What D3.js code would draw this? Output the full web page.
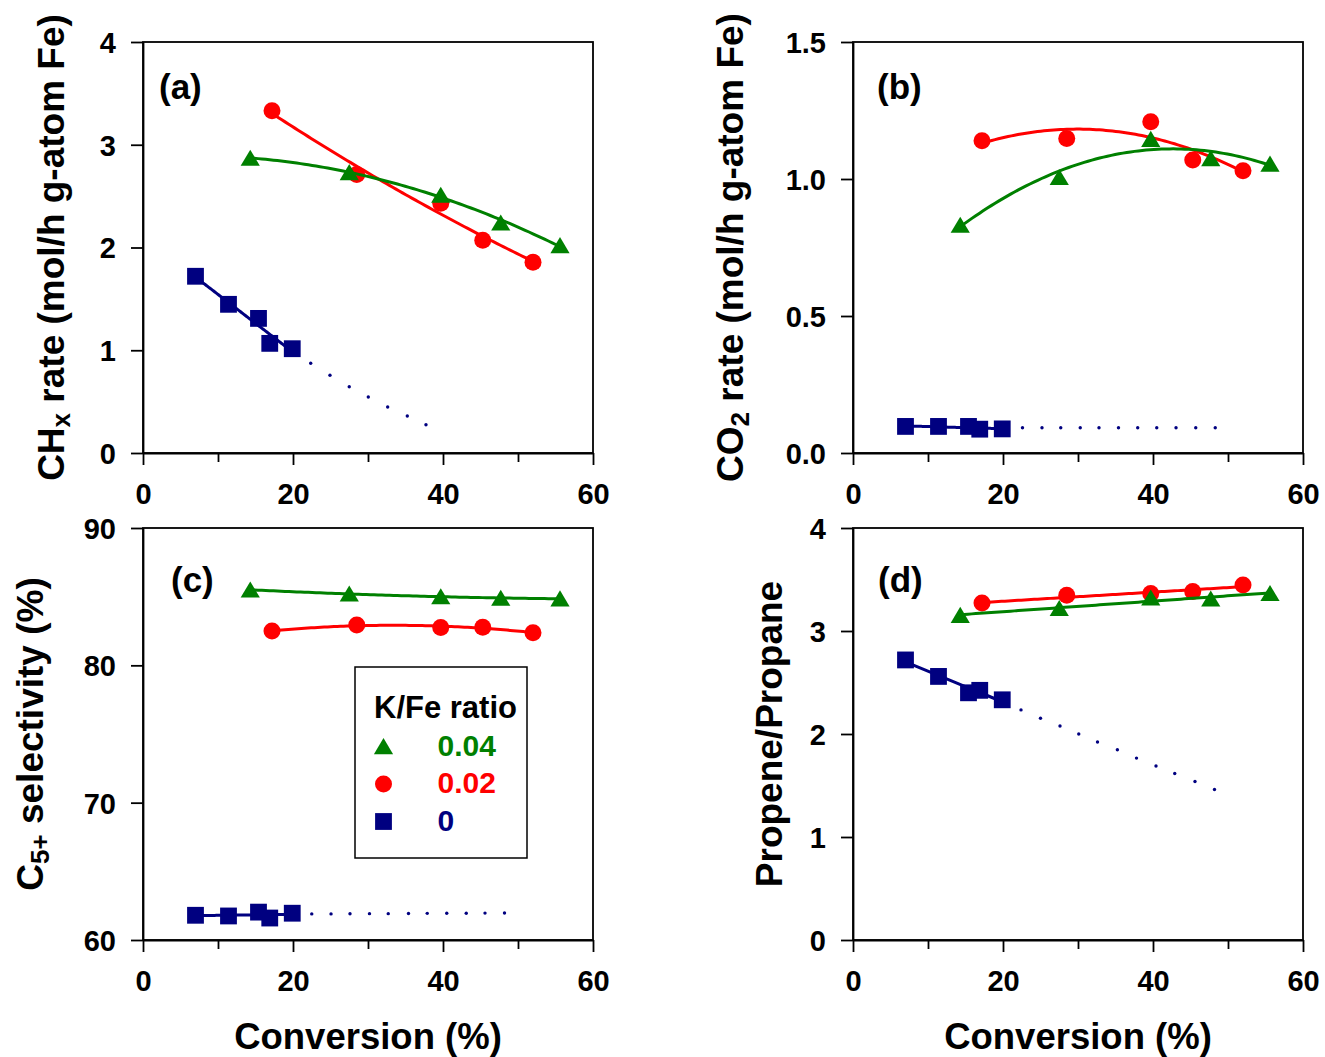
<!DOCTYPE html>
<html>
<head>
<meta charset="utf-8">
<script src="https://cdn.jsdelivr.net/npm/d3@7"></script>
<style>
  html, body { margin: 0; padding: 0; background: #fff; }
  svg { display: block; }
  text { font-family: "Liberation Sans", Arial, sans-serif; font-weight: bold; }
</style>
</head>
<body>
<svg id="chart" width="1325" height="1057"></svg>
<script>
// ---------------- DATA ----------------
const seriesNames = ["0", "0.02", "0.04"];          // K/Fe ratio
const seriesColors = ["#000080", "#ff0000", "#008000"];

// Conversion (%) for each catalyst
const convK0   = [7.0, 11.4, 15.4, 16.9, 19.9];
const convK002 = [17.2, 28.5, 39.7, 45.3, 52.0];
const convK004 = [14.3, 27.5, 39.7, 47.7, 55.6];

// (a) CHx rate
const chxK0   = [1.72, 1.447, 1.31, 1.067, 1.015];
const chxK002 = [3.33, 2.71, 2.43, 2.07, 1.856];
const chxK004 = [2.87, 2.73, 2.51, 2.24, 2.02];
const chxK0DotX = [22.36, 24.93, 27.5, 30.04, 32.62, 35.24, 37.73];
const chxK0DotY = [0.873, 0.756, 0.645, 0.545, 0.448, 0.360, 0.275];

// (b) CO2 rate
const co2K0   = [0.097, 0.097, 0.097, 0.087, 0.088];
const co2K002 = [1.14, 1.148, 1.209, 1.069, 1.030];
const co2K004 = [0.832, 1.006, 1.145, 1.075, 1.055];
const co2K0DotX = [22.6, 25.2, 27.7, 30.3, 32.8, 35.4, 37.96, 40.5, 43.07, 45.7, 48.3];
const co2K0DotY = [0.092, 0.092, 0.092, 0.092, 0.092, 0.092, 0.092, 0.092, 0.092, 0.092, 0.092];

// (c) C5+ selectivity
const c5K0   = [61.8, 61.75, 62.03, 61.6, 61.95];
const c5K002 = [82.5, 82.93, 82.75, 82.78, 82.37];
const c5K004 = [85.5, 85.2, 85.0, 84.9, 84.85];
const c5K0DotX = [22.5, 25.07, 27.6, 30.2, 32.7, 35.4, 37.9, 40.5, 43.1, 45.6, 48.2];
const c5K0DotY = [61.9, 61.9, 61.91, 61.92, 61.92, 61.93, 61.94, 61.95, 61.95, 61.96, 61.97];

// (d) Propene/Propane
const ppK0   = [2.719, 2.559, 2.40, 2.424, 2.332];
const ppK002 = [3.271, 3.346, 3.363, 3.383, 3.447];
const ppK004 = [3.153, 3.22, 3.322, 3.312, 3.366];
const ppK0DotX = [22.4, 25.0, 27.6, 30.1, 32.6, 35.25, 37.8, 40.4, 42.9, 45.6, 48.2];
const ppK0DotY = [2.234, 2.153, 2.078, 2.0, 1.922, 1.847, 1.766, 1.69, 1.617, 1.539, 1.461];

// Axis ticks
const xMajorTicks = [0, 20, 40, 60];
const xMinorTicks = [10, 30, 50];
const yTicksA = [0, 1, 2, 3, 4];
const yTicksB = [0, 0.5, 1.0, 1.5];
const yTicksC = [60, 70, 80, 90];
const yTicksD = [0, 1, 2, 3, 4];

const panelLabels = ["(a)", "(b)", "(c)", "(d)"];
const legendTitle = "K/Fe ratio";
const xTitle = "Conversion (%)";

// ---------------- HELPERS ----------------
function polyfit(xs, ys, deg) {
  const n = deg + 1;
  const A = Array.from({length: n}, () => new Array(n + 1).fill(0));
  for (let k = 0; k < xs.length; k++) {
    for (let i = 0; i < n; i++) {
      for (let j = 0; j < n; j++) A[i][j] += Math.pow(xs[k], i + j);
      A[i][n] += ys[k] * Math.pow(xs[k], i);
    }
  }
  for (let i = 0; i < n; i++) {
    let p = i;
    for (let r = i + 1; r < n; r++) if (Math.abs(A[r][i]) > Math.abs(A[p][i])) p = r;
    [A[i], A[p]] = [A[p], A[i]];
    for (let r = 0; r < n; r++) {
      if (r === i) continue;
      const f = A[r][i] / A[i][i];
      for (let c = i; c <= n; c++) A[r][c] -= f * A[i][c];
    }
  }
  return A.map((row, i) => row[n] / row[i]);
}
function fitCurve(xs, ys, deg) {
  const c = polyfit(xs, ys, deg);
  const x0 = d3.min(xs), x1 = d3.max(xs);
  return d3.range(0, 81).map(i => {
    const x = x0 + (x1 - x0) * i / 80;
    return [x, c.reduce((s, ci, k) => s + ci * Math.pow(x, k), 0)];
  });
}

const svg = d3.select("#chart");

function drawMarker(g, type, x, y, color) {
  if (type === 0) {
    g.append("rect").attr("x", x - 8.4).attr("y", y - 8.4)
      .attr("width", 16.8).attr("height", 16.8).attr("fill", color);
  } else if (type === 1) {
    g.append("circle").attr("cx", x).attr("cy", y).attr("r", 8.5).attr("fill", color);
  } else {
    g.append("path").attr("d", `M${x},${y - 8.4}L${x + 9.6},${y + 7.7}L${x - 9.6},${y + 7.7}Z`)
      .attr("fill", color);
  }
}

const panels = [
  { key: "a", left: 143, top: 42, width: 450, height: 411, yDomain: [0, 4], yTicks: yTicksA,
    yFmt: d3.format("d"), ys: [chxK0, chxK002, chxK004], dotX: chxK0DotX, dotY: chxK0DotY,
    deg: [1, 2, 2], label: panelLabels[0], labelX: 159, labelY: 99,
    yTitle: [["CH", 0], ["x", 1], [" rate (mol/h g-atom Fe)", 0]], yTitleX: 64, xTitle: false },
  { key: "b", left: 853, top: 42, width: 450, height: 411, yDomain: [0, 1.5], yTicks: yTicksB,
    yFmt: d3.format(".1f"), ys: [co2K0, co2K002, co2K004], dotX: co2K0DotX, dotY: co2K0DotY,
    deg: [1, 2, 2], label: panelLabels[1], labelX: 877, labelY: 99,
    yTitle: [["CO", 0], ["2", 1], [" rate (mol/h g-atom Fe)", 0]], yTitleX: 743, xTitle: false },
  { key: "c", left: 143, top: 528, width: 450, height: 412, yDomain: [60, 90], yTicks: yTicksC,
    yFmt: d3.format("d"), ys: [c5K0, c5K002, c5K004], dotX: c5K0DotX, dotY: c5K0DotY,
    deg: [1, 2, 2], label: panelLabels[2], labelX: 171, labelY: 592,
    yTitle: [["C", 0], ["5+", 1], [" selectivity (%)", 0]], yTitleX: 43, xTitle: true },
  { key: "d", left: 853, top: 528, width: 450, height: 412, yDomain: [0, 4], yTicks: yTicksD,
    yFmt: d3.format("d"), ys: [ppK0, ppK002, ppK004], dotX: ppK0DotX, dotY: ppK0DotY,
    deg: [1, 1, 1], label: panelLabels[3], labelX: 878, labelY: 592,
    yTitle: [["Propene/Propane", 0]], yTitleX: 782, xTitle: true }
];
const convs = [convK0, convK002, convK004];

panels.forEach(p => {
  const x = d3.scaleLinear().domain([0, 60]).range([p.left, p.left + p.width]);
  const y = d3.scaleLinear().domain(p.yDomain).range([p.top + p.height, p.top]);
  const g = svg.append("g");

  // frame (top and right borders)
  g.append("rect").attr("x", p.left).attr("y", p.top)
    .attr("width", p.width).attr("height", p.height)
    .attr("fill", "none").attr("stroke", "#000").attr("stroke-width", 1.8);

  // x axis
  const xAxis = g.append("g").attr("transform", `translate(0,${p.top + p.height})`)
    .call(d3.axisBottom(x).tickValues(xMajorTicks).tickSize(12).tickSizeOuter(0).tickFormat(d3.format("d")));
  xAxis.select(".domain").attr("stroke-width", 1.8);
  xAxis.selectAll(".tick line").attr("stroke-width", 1.8);
  xAxis.selectAll(".tick text").attr("y", 51).attr("dy", null)
    .attr("font-size", 29).attr("font-family", "Liberation Sans, Arial, sans-serif").attr("font-weight", "bold").attr("fill", "#000");
  const xMinor = g.append("g").attr("transform", `translate(0,${p.top + p.height})`)
    .call(d3.axisBottom(x).tickValues(xMinorTicks).tickSize(9).tickSizeOuter(0).tickFormat(""));
  xMinor.select(".domain").remove();
  xMinor.selectAll(".tick line").attr("stroke-width", 1.8);

  // y axis
  const yAxis = g.append("g").attr("transform", `translate(${p.left},0)`)
    .call(d3.axisLeft(y).tickValues(p.yTicks).tickSize(12).tickSizeOuter(0).tickFormat(p.yFmt));
  yAxis.select(".domain").attr("stroke-width", 1.8);
  yAxis.selectAll(".tick line").attr("stroke-width", 1.8);
  yAxis.selectAll(".tick text").attr("x", -27).attr("dy", "0.36em")
    .attr("font-size", 29).attr("font-family", "Liberation Sans, Arial, sans-serif").attr("font-weight", "bold").attr("fill", "#000");

  // y title
  const yt = g.append("text")
    .attr("transform", `translate(${p.yTitleX},${p.top + p.height / 2}) rotate(-90)`)
    .attr("text-anchor", "middle").attr("font-size", 37).attr("fill", "#000");
  p.yTitle.forEach((part, i) => {
    const ts = yt.append("tspan").text(part[0]);
    if (part[1] === 1) ts.attr("font-size", 26).attr("dy", "0.22em");
    else if (i > 0 && p.yTitle[i - 1][1] === 1) ts.attr("dy", "-0.15em");
  });

  // x title
  if (p.xTitle) {
    g.append("text").attr("x", p.left + p.width / 2).attr("y", 1049)
      .attr("text-anchor", "middle").attr("font-size", 36.5).attr("fill", "#000").text(xTitle);
  }

  // panel label
  g.append("text").attr("x", p.labelX).attr("y", p.labelY)
    .attr("font-size", 35).attr("fill", "#000").text(p.label);

  // dotted extrapolation for K/Fe = 0
  p.dotX.forEach((dx, i) => {
    g.append("circle").attr("cx", x(dx)).attr("cy", y(p.dotY[i])).attr("r", 1.7)
      .attr("fill", seriesColors[0]);
  });

  // series
  const line = d3.line().x(d => x(d[0])).y(d => y(d[1]));
  [0, 1, 2].forEach(s => {
    const xs = convs[s], ys = p.ys[s];
    g.append("path").attr("d", line(fitCurve(xs, ys, p.deg[s])))
      .attr("fill", "none").attr("stroke", seriesColors[s]).attr("stroke-width", 3);
    xs.forEach((xv, i) => drawMarker(g, s, x(xv), y(ys[i]), seriesColors[s]));
  });
});

// ---------------- LEGEND (in panel c) ----------------
const lg = svg.append("g");
lg.append("rect").attr("x", 355).attr("y", 667).attr("width", 172).attr("height", 191)
  .attr("fill", "#fff").attr("stroke", "#000").attr("stroke-width", 1.5);
lg.append("text").attr("x", 374).attr("y", 718).attr("font-size", 31).attr("fill", "#000").text(legendTitle);
const legendOrder = [2, 1, 0];
legendOrder.forEach((s, i) => {
  const cy = 746.5 + i * 37.5;
  drawMarker(lg, s, 383.5, cy, seriesColors[s]);
  lg.append("text").attr("x", 437.5).attr("y", cy + 9).attr("font-size", 30)
    .attr("fill", seriesColors[s]).text(seriesNames[s]);
});
</script>
</body>
</html>
